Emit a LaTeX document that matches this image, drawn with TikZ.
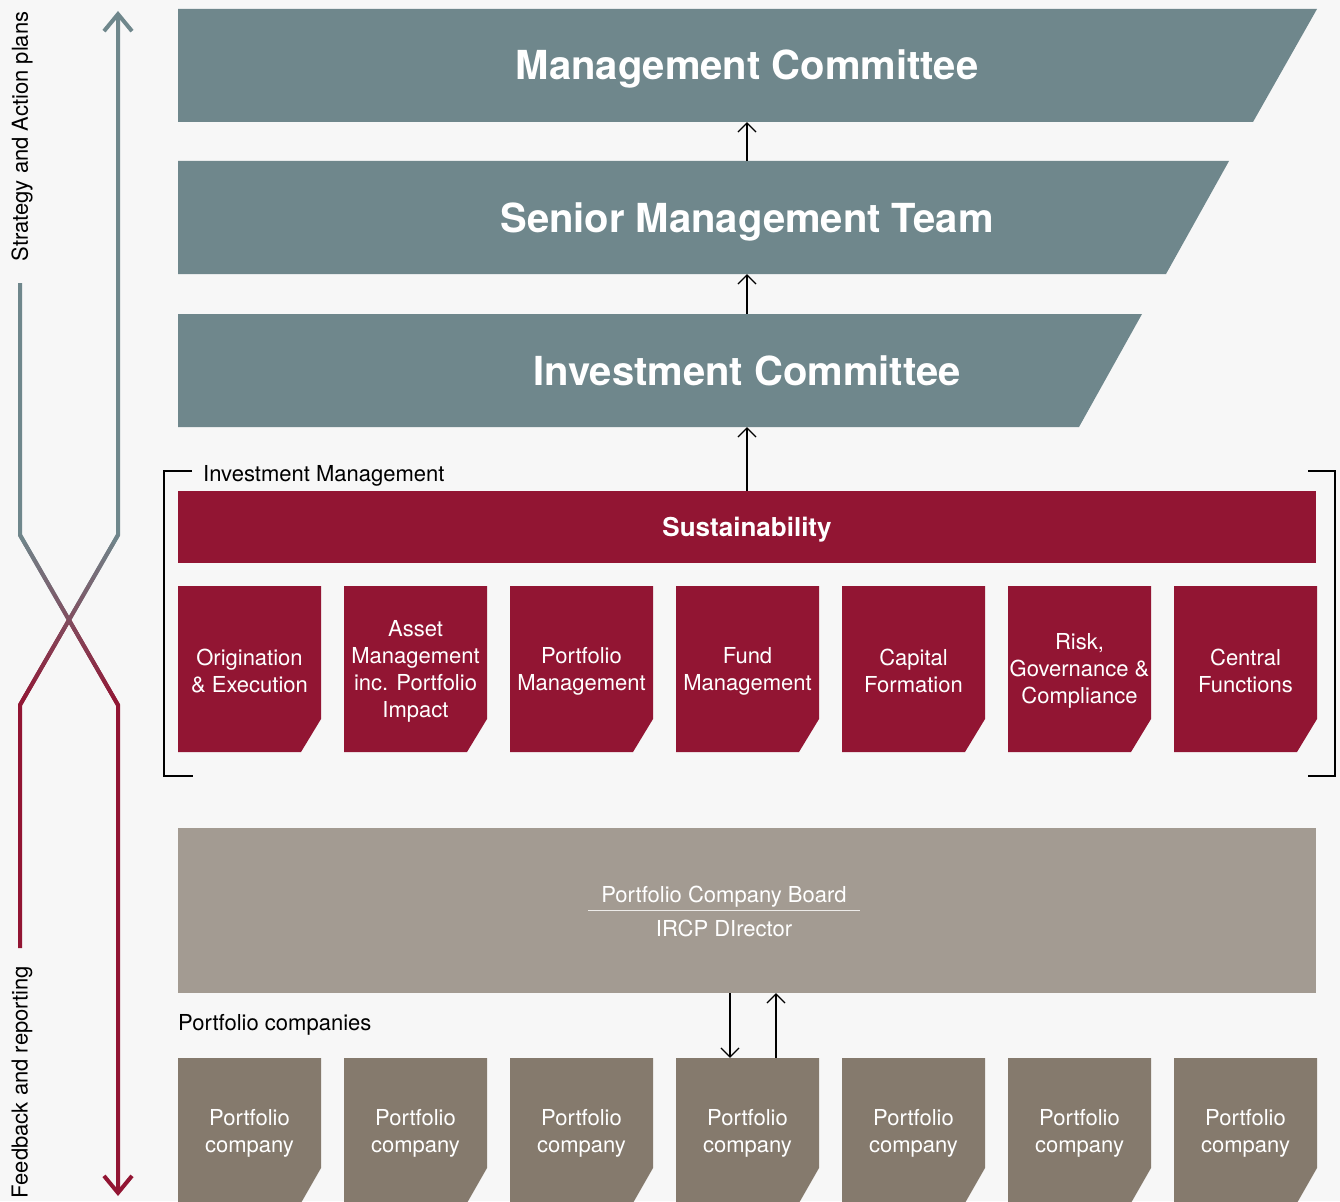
\documentclass[tikz,border=0pt]{standalone}
\usepackage{fontspec}
\setmainfont{TeX Gyre Heros}
\usetikzlibrary{arrows.meta,calc}
\definecolor{mgmt}{RGB}{111,135,140}
\definecolor{crimson}{RGB}{146,21,51}
\definecolor{boardcol}{RGB}{163,155,146}
\definecolor{company}{RGB}{133,122,109}
\definecolor{paper}{RGB}{247,247,247}
\newcommand{\fsize}[2]{\fontsize{#1}{#2}\selectfont}

\begin{document}
\begin{tikzpicture}[x=1pt,y=-1pt,>={Straight Barb[length=9pt,width=18pt]},
      headbox/.style={text=white,font=\fsize{40}{48}\bfseries,inner sep=0pt,
        minimum height=113pt,text height=29pt,text depth=0pt},
      funcbox/.style={text=white,font=\fsize{22}{27},align=center,inner sep=0pt,
        minimum width=143pt},
      lbl/.style={font=\fsize{22}{27},inner sep=0pt},
      link/.style={->,line width=1.2pt},
      thread/.style={line width=4pt},
      tip/.style={-{Straight Barb[length=17pt,width=28pt]}}]
      \fill[paper] (0,0) rectangle (1340,1201);
      \useasboundingbox (0,0) rectangle (1340,1201);

      % committees
      \fill[mgmt] (178,9) -- (1317,9) -- (1253,122) -- (178,122) -- cycle;
      \node[headbox] (mc) at (747,65.5) {Management Committee};
      \fill[mgmt] (178,161) -- (1229,161) -- (1166,274) -- (178,274) -- cycle;
      \node[headbox] (smt) at (747,217.5) {Senior Management Team};
      \fill[mgmt] (178,314) -- (1142,314) -- (1079,427) -- (178,427) -- cycle;
      \node[headbox] (ic) at (747,370.5) {Investment Committee};

      % investment management
      \node[fill=crimson,text=white,font=\fsize{26}{31}\bfseries,inner sep=0pt,
        text height=19pt,text depth=0pt,
        minimum width=1138pt,minimum height=72pt] (sus) at (747,527) {Sustainability};
      \node[lbl,anchor=base west] (imlabel) at (203,481) {Investment Management};
      \draw[line width=1.3pt] (192,471) -- (164,471) -- (164,776) -- (193,776);
      \draw[line width=1.3pt] (1308,471) -- (1335,471) -- (1335,776) -- (1308,776);

      \foreach \txt [count=\i from 0] in {{Origination\\\& Execution},
        {Asset\\Management\\inc. Portfolio\\Impact}, {Portfolio\\Management},
        {Fund\\Management}, {Capital\\Formation}, {Risk,\\Governance \&\\Compliance},
        {Central\\Functions}} {
        \fill[crimson] (178+166*\i,586) -- ++(143,0) -- ++(0,133) -- ++(-20,33)
          -- ++(-123,0) -- cycle;
        \node[funcbox,minimum height=170pt] (fn\i) at (249.5+166*\i,671) {\txt};
      }

      \draw[link] (smt.north) -- (mc.south);
      \draw[link] (ic.north) -- (smt.south);
      \draw[link] (sus.north) -- (ic.south);

      % portfolio companies
      \node[fill=boardcol,minimum width=1138pt,minimum height=165pt] (pcb) at (747,910.5) {};
      \node[lbl,text=white,anchor=base] (pcbname) at (724,902) {Portfolio Company Board};
      \draw[white!80!boardcol,line width=1pt] (588,910) -- (860,910);
      \node[lbl,text=white,anchor=base] (ircp) at (724,936) {IRCP DIrector};
      \node[lbl,anchor=base west] (pclabel) at (178,1030) {Portfolio companies};

      \foreach \i in {0,...,6} {
        \fill[company] (178+166*\i,1058) -- ++(143,0) -- ++(0,110) -- ++(-20,35)
          -- ++(-123,0) -- cycle;
        \node[funcbox,minimum height=151pt] (pc\i) at (249.5+166*\i,1133.5) {Portfolio\\company};
      }
      \draw[link] ([xshift=-17pt]pcb.south) -- ([xshift=-17.5pt]pc3.north);
      \draw[link] ([xshift=28.5pt]pc3.north) -- ([xshift=29pt]pcb.south);

      % strategy / feedback threads
      \coordinate (cross) at (69,620);
      \coordinate (lt) at (20,535);
      \coordinate (rt) at (118,535);
      \coordinate (lb) at (20,705);
      \coordinate (rb) at (118,705);
      \draw[thread,mgmt] (20,283) -- (lt) -- (cross);
      \draw[thread,crimson,tip] (cross) -- (rb) -- (118,1196);
      \draw[thread,mgmt,tip] (cross) -- (rt) -- (118,11);
      \draw[thread,crimson] (cross) -- (lb) -- (20,948);
      \foreach \k in {0,...,19} {
        \pgfmathsetmacro\ta{\k/20}
        \pgfmathsetmacro\tb{(\k+1)/20}
        \pgfmathsetmacro\pct{100*(\k+0.5)/20}
        \draw[thread,crimson!\pct!mgmt] ($(lt)!\ta!(rb)$) -- ($(lt)!\tb!(rb)$);
        \draw[thread,crimson!\pct!mgmt] ($(rt)!\ta!(lb)$) -- ($(rt)!\tb!(lb)$);
      }
      \node[lbl,rotate=90] (strat) at (22,136.5) {Strategy and Action plans};
      \node[lbl,rotate=90] (feed) at (22,1082) {Feedback and reporting};
\end{tikzpicture}
\end{document}
